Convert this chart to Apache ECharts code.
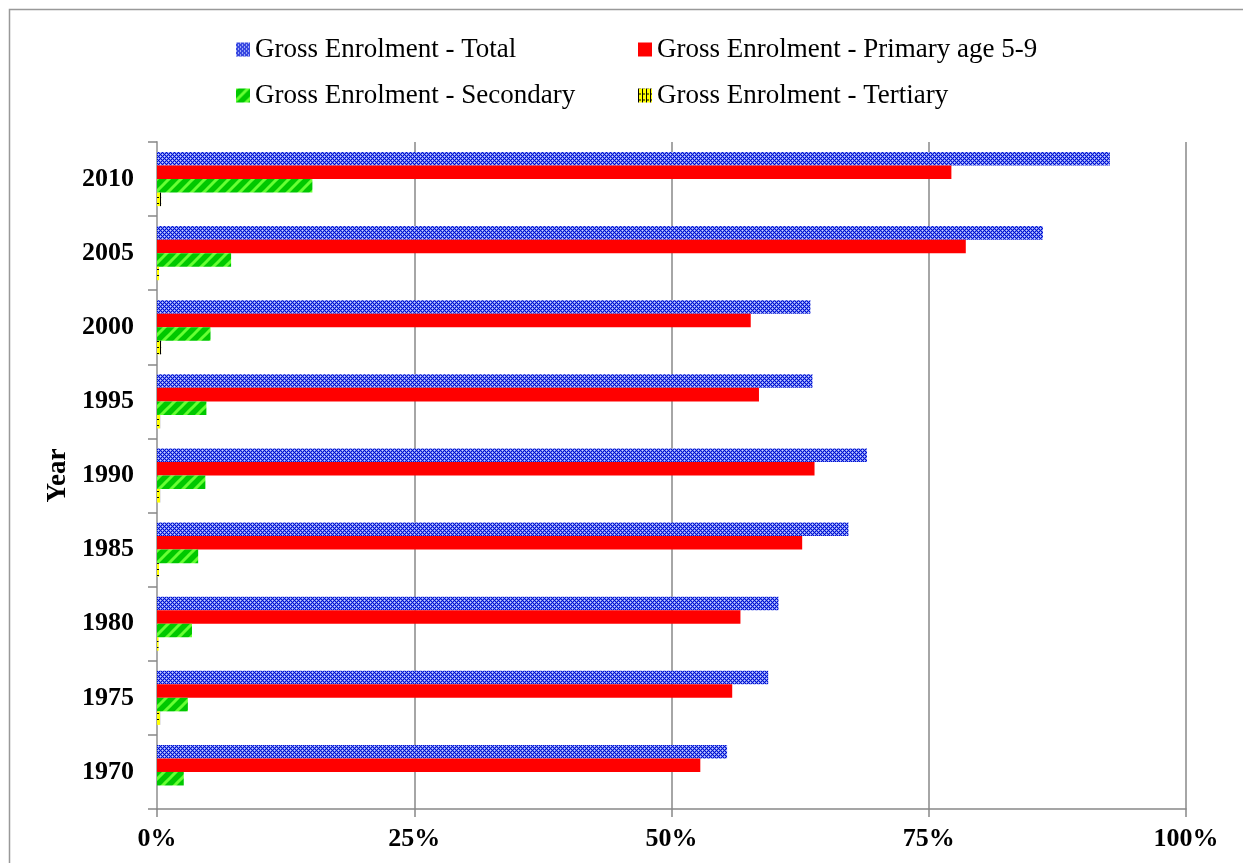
<!DOCTYPE html>
<html>
<head>
<meta charset="utf-8">
<script src="https://cdn.jsdelivr.net/npm/echarts@6/dist/echarts.min.js"></script>
<style>html,body{margin:0;padding:0;background:#fff;}#c{width:1243px;height:863px;}</style>
</head>
<body>
<div id="c"></div>
<script>
var years = ['2010','2005','2000','1995','1990','1985','1980','1975','1970'];
var totalVals = [92.6, 86.1, 63.5, 63.7, 69.0, 67.2, 60.4, 59.4, 55.4];
var primaryVals = [77.2, 78.6, 57.7, 58.5, 63.9, 62.7, 56.7, 55.9, 52.8];
var secondaryVals = [15.1, 7.2, 5.2, 4.8, 4.7, 4.0, 3.4, 3.0, 2.6];
var tertiaryVals = [0.4, 0.2, 0.4, 0.3, 0.3, 0.2, 0.15, 0.3, 0];
var xTicks = [0, 25, 50, 75, 100];
var seriesNames = ['Gross Enrolment - Total','Gross Enrolment - Primary age 5-9','Gross Enrolment - Secondary','Gross Enrolment - Tertiary'];

function mk(w,h,draw){var c=document.createElement('canvas');c.width=w;c.height=h;var g=c.getContext('2d');draw(g);return {image:c,repeat:'repeat'};}
var blueP = mk(4,4,function(g){
  g.fillStyle='#0010d0';g.fillRect(0,0,4,4);
  g.fillStyle='#c8d0ff';g.fillRect(0,0,1,1);g.fillRect(2,2,1,1);
  g.fillStyle='#7080f0';g.fillRect(1,0,1,1);g.fillRect(0,1,1,1);g.fillRect(3,0,1,1);g.fillRect(0,3,1,1);
  g.fillRect(3,2,1,1);g.fillRect(2,3,1,1);g.fillRect(1,2,1,1);g.fillRect(2,1,1,1);
});
var greenP = mk(12,12,function(g){g.fillStyle='#00c800';g.fillRect(0,0,12,12);g.strokeStyle='#66ff33';g.lineWidth=3;
  [[-6,18,18,-6],[-12,12,12,-12],[0,24,24,0]].forEach(function(s){g.beginPath();g.moveTo(s[0],s[1]);g.lineTo(s[2],s[3]);g.stroke();});});
var yellowP = mk(4,6,function(g){g.fillStyle='#ffff00';g.fillRect(0,0,4,6);g.fillStyle='#000';g.fillRect(0,0,1,6);g.fillRect(0,5,3,1);});

var font = 'Liberation Serif';
var chart = echarts.init(document.getElementById('c'));
function legendAt(name,left,top){return {data:[name],left:left,top:top,itemWidth:14,itemHeight:14,itemGap:0,icon:'rect',textStyle:{fontFamily:font,fontSize:27,color:'#000'}};}
chart.setOption({
  backgroundColor:'#fff',
  animation:false,
  graphic:[{type:'rect',shape:{x:9.5,y:9.5,width:1245,height:870},style:{fill:null,stroke:'#999',lineWidth:1.5},silent:true}],
  legend:[legendAt(seriesNames[0],231,31),legendAt(seriesNames[1],633,31),legendAt(seriesNames[2],231,77),legendAt(seriesNames[3],633,77)],
  grid:{left:157,right:57,top:142,bottom:54,containLabel:false},
  xAxis:{type:'value',min:0,max:100,interval:25,
    axisLine:{show:true,lineStyle:{color:'#888',width:1.5}},
    axisTick:{show:true,length:8,lineStyle:{color:'#888',width:1.5}},
    splitLine:{show:true,lineStyle:{color:'#888',width:1.5}},
    axisLabel:{formatter:function(v){return v+'%';},fontFamily:font,fontSize:26,fontWeight:'bold',color:'#000',margin:17}},
  yAxis:{type:'category',data:years,inverse:true,
    name:'Year',nameLocation:'middle',nameGap:84,nameRotate:90,
    nameTextStyle:{fontFamily:font,fontSize:27,fontWeight:'bold',color:'#000'},
    axisLine:{show:true,lineStyle:{color:'#aaa',width:2}},
    axisTick:{show:true,length:9,lineStyle:{color:'#888',width:1.5}},
    axisLabel:{fontFamily:font,fontSize:26,fontWeight:'bold',color:'#000',margin:23,padding:[4,0,0,0]}},
  series:[
    {name:seriesNames[0],type:'bar',data:totalVals,barGap:'0%',barCategoryGap:'27%',itemStyle:{color:blueP}},
    {name:seriesNames[1],type:'bar',data:primaryVals,barGap:'0%',barCategoryGap:'27%',itemStyle:{color:'#ff0000'}},
    {name:seriesNames[2],type:'bar',data:secondaryVals,barGap:'0%',barCategoryGap:'27%',itemStyle:{color:greenP}},
    {name:seriesNames[3],type:'bar',data:tertiaryVals,barGap:'0%',barCategoryGap:'27%',itemStyle:{color:yellowP}}
  ]
});
</script>
</body>
</html>
